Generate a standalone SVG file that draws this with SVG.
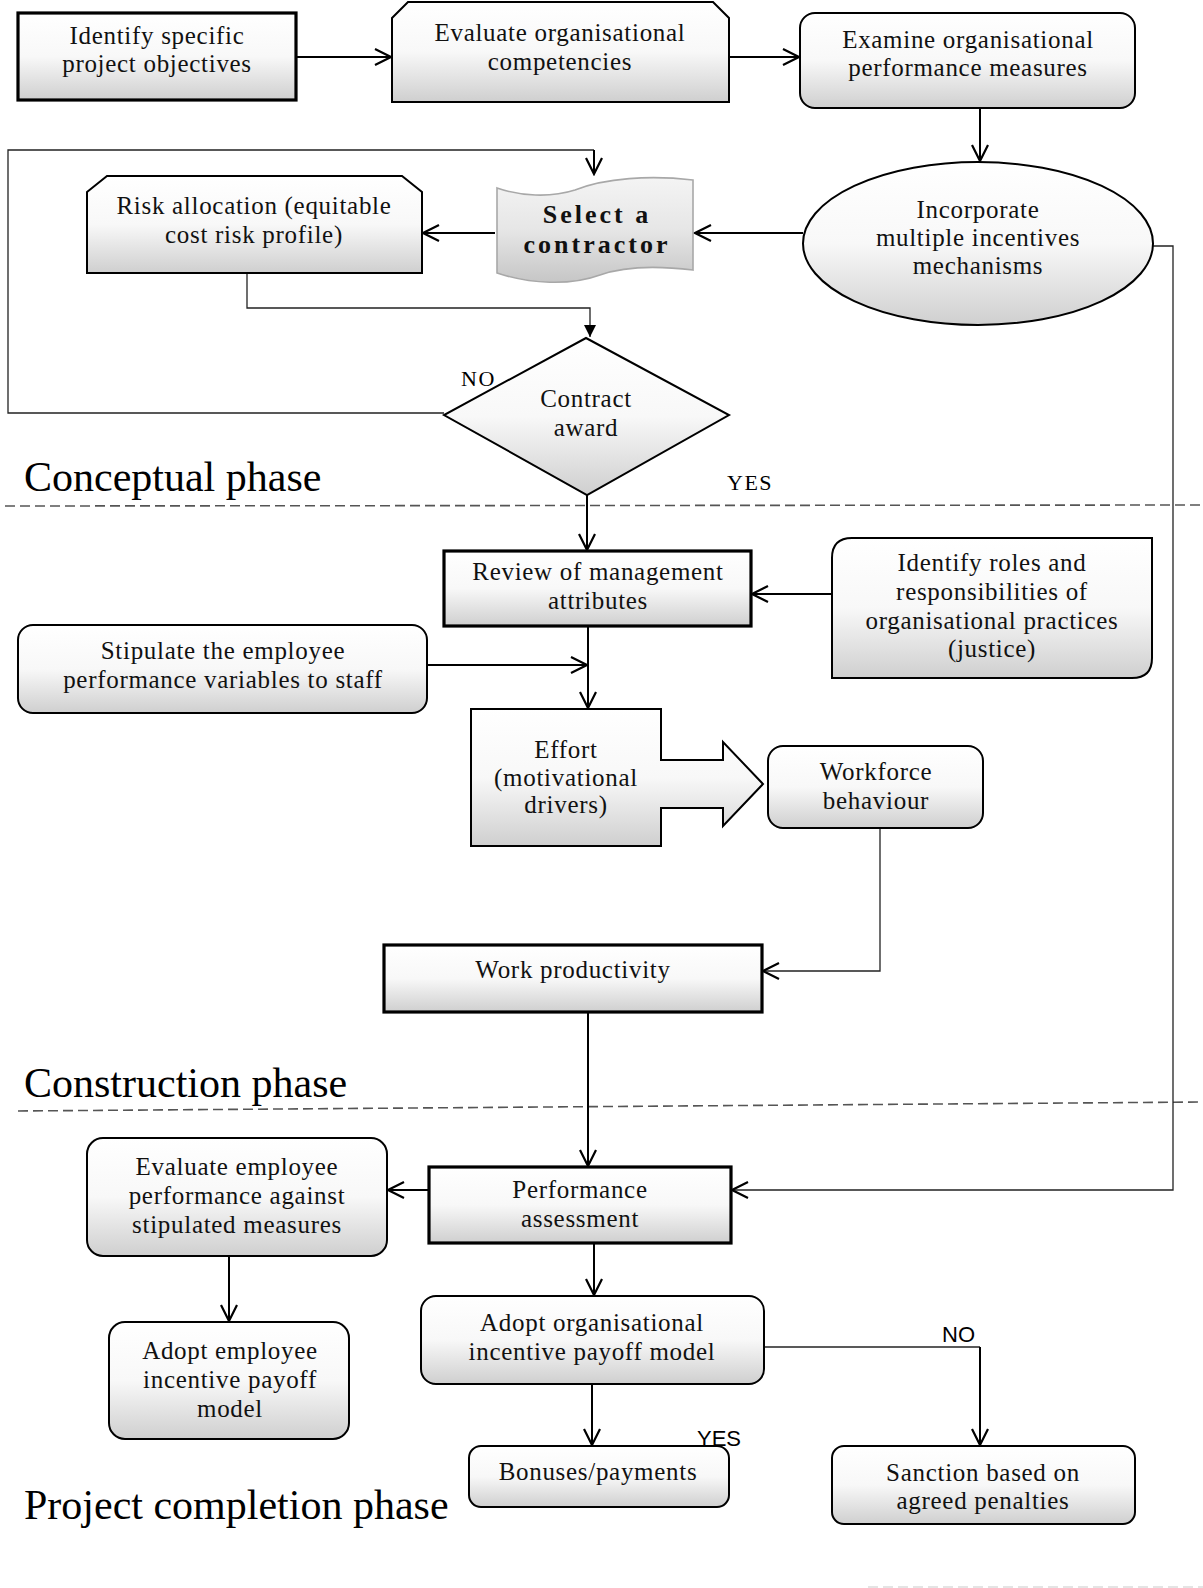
<svg xmlns="http://www.w3.org/2000/svg" width="1203" height="1588" viewBox="0 0 1203 1588">
  <defs>
    <linearGradient id="boxFill" x1="0" y1="0" x2="0" y2="1">
      <stop offset="0" stop-color="#ffffff"/>
      <stop offset="0.5" stop-color="#f8f8f8"/>
      <stop offset="1" stop-color="#cfcfcf"/>
    </linearGradient>
    <linearGradient id="tapeFill" x1="0" y1="0" x2="0" y2="1">
      <stop offset="0" stop-color="#f4f4f4"/>
      <stop offset="0.5" stop-color="#e6e6e6"/>
      <stop offset="1" stop-color="#c6c6c6"/>
    </linearGradient>
    <marker id="arrowOpen" viewBox="0 0 20 20" refX="18" refY="10" markerWidth="20" markerHeight="20" orient="auto" markerUnits="userSpaceOnUse">
      <path d="M2,2 L18,10 L2,18" fill="none" stroke="#000" stroke-width="2.2"/>
    </marker>
    <marker id="arrowSolid" viewBox="0 0 16 16" refX="14" refY="8" markerWidth="16" markerHeight="16" orient="auto" markerUnits="userSpaceOnUse">
      <path d="M2,2 L14,8 L2,14 Z" fill="#000"/>
    </marker>
  </defs>
  <style>
    .box { fill: url(#boxFill); stroke: #000; stroke-width: 2; }
    .thick { stroke-width: 3.2; }
    .tape { fill: url(#tapeFill); stroke: #a8a8a8; stroke-width: 1.6; }
    .lbl { font-family: "Liberation Serif", "Times New Roman", serif; font-size: 25px; letter-spacing: 0.7px; fill: #111; text-anchor: middle; }
    .lbl-bold { font-family: "Liberation Serif", "Times New Roman", serif; font-size: 26px; font-weight: bold; letter-spacing: 3px; fill: #111; text-anchor: middle; }
    .phase { font-family: "Liberation Serif", "Times New Roman", serif; font-size: 42px; fill: #000; }
    .tag { font-family: "Liberation Serif", "Times New Roman", serif; font-size: 22px; letter-spacing: 1.5px; fill: #000; }
    .tag-sans { font-family: "Liberation Sans", Arial, sans-serif; font-size: 22px; fill: #000; }
    .edge { fill: none; stroke: #000; stroke-width: 2; marker-end: url(#arrowOpen); }
    .thin { fill: none; stroke: #222; stroke-width: 1.3; }
    .divider { fill: none; stroke: #555; stroke-width: 1.6; stroke-dasharray: 10 5; }
  </style>

  <!-- phase dividers -->
  <g id="dividers">
    <line class="divider" x1="5" y1="506" x2="1203" y2="505"/>
    <line class="divider" x1="18" y1="1111" x2="1203" y2="1102"/>
    <line x1="868" y1="1587" x2="1203" y2="1587" stroke="#dcdcdc" stroke-width="1.5" stroke-dasharray="10 5"/>
  </g>

  <!-- phase titles -->
  <g id="phase-labels">
    <text class="phase" x="24" y="491">Conceptual phase</text>
    <text class="phase" x="24" y="1097">Construction phase</text>
    <text class="phase" x="24" y="1519">Project completion phase</text>
  </g>

  <!-- connectors -->
  <g id="connectors">
    <path class="edge" d="M296,57 H391"/>
    <path class="edge" d="M729,57 H799"/>
    <path class="edge" d="M980,108 V161"/>
    <path class="edge" d="M803,233 H695"/>
    <path class="edge" d="M495,233 H423"/>
    <path class="thin" d="M444,413 H8 V150 H594"/>
    <path class="edge" d="M594,150 V174" stroke-width="1.3"/>
    <path class="thin" d="M247,273 V308 H590 V337" marker-end="url(#arrowSolid)"/>
    <path class="edge" d="M587,495 V550"/>
    <path class="edge" d="M832,594 H752"/>
    <path class="edge" d="M588,626 V708"/>
    <path class="edge" d="M427,665 H587"/>
    <path class="thin" d="M880,828 V971 H763" marker-end="url(#arrowOpen)"/>
    <path class="edge" d="M588,1012 V1166"/>
    <path class="thin" d="M1153,246 H1173 V1190 H732" marker-end="url(#arrowOpen)"/>
    <path class="edge" d="M429,1190 H388"/>
    <path class="edge" d="M229,1256 V1321"/>
    <path class="edge" d="M594,1243 V1295"/>
    <path class="edge" d="M592,1384 V1445"/>
    <path class="thin" d="M764,1347 H980"/>
    <path class="edge" d="M980,1347 V1445" stroke-width="1.8"/>
  </g>

  <!-- decision labels -->
  <g id="decision-labels">
    <text class="tag" x="461" y="386">NO</text>
    <text class="tag" x="727" y="490">YES</text>
    <text class="tag-sans" x="942" y="1342">NO</text>
    <text class="tag-sans" x="697" y="1446">YES</text>
  </g>

  <!-- conceptual phase -->
  <g id="identify-objectives">
    <rect class="box thick" x="18" y="13" width="278" height="87"/>
    <text class="lbl" x="157" y="44">Identify specific</text>
    <text class="lbl" x="157" y="72">project objectives</text>
  </g>

  <g id="evaluate-competencies">
    <path class="box" d="M392,18 L408,2 H713 L729,18 V102 H392 Z"/>
    <text class="lbl" x="560" y="41">Evaluate organisational</text>
    <text class="lbl" x="560" y="70">competencies</text>
  </g>

  <g id="examine-measures">
    <rect class="box" x="800" y="13" width="335" height="95" rx="15"/>
    <text class="lbl" x="968" y="48">Examine organisational</text>
    <text class="lbl" x="968" y="76">performance measures</text>
  </g>

  <g id="incentive-mechanisms">
    <ellipse class="box" cx="978" cy="243.5" rx="175" ry="81.5"/>
    <text class="lbl" x="978" y="218">Incorporate</text>
    <text class="lbl" x="978" y="246">multiple incentives</text>
    <text class="lbl" x="978" y="274">mechanisms</text>
  </g>

  <g id="select-contractor">
    <path class="tape" d="M497,188 C520,196 550,198 575,190 C605,178 650,175 693,180 V270 C660,266 625,266 600,275 C570,286 530,284 497,273 Z"/>
    <text class="lbl-bold" x="597" y="223">Select a</text>
    <text class="lbl-bold" x="597" y="253">contractor</text>
  </g>

  <g id="risk-allocation">
    <path class="box" d="M87,192 L107,176 H402 L422,192 V273 H87 Z"/>
    <text class="lbl" x="254" y="214">Risk allocation (equitable</text>
    <text class="lbl" x="254" y="243">cost risk profile)</text>
  </g>

  <g id="contract-award">
    <path class="box" d="M586,338 L729,415 L587,495 L444,415 Z"/>
    <text class="lbl" x="586" y="407" letter-spacing="0.3">Contract</text>
    <text class="lbl" x="586" y="436" letter-spacing="0.3">award</text>
  </g>

  <!-- construction phase -->
  <g id="review-attributes">
    <rect class="box thick" x="444" y="551" width="307" height="75"/>
    <text class="lbl" x="598" y="580">Review of management</text>
    <text class="lbl" x="598" y="609">attributes</text>
  </g>

  <g id="roles-responsibilities">
    <path class="box" d="M852,538 H1152 V658 Q1152,678 1132,678 H832 V558 Q832,538 852,538 Z"/>
    <text class="lbl" x="992" y="571">Identify roles and</text>
    <text class="lbl" x="992" y="600">responsibilities of</text>
    <text class="lbl" x="992" y="629">organisational practices</text>
    <text class="lbl" x="992" y="657">(justice)</text>
  </g>

  <g id="stipulate-variables">
    <rect class="box" x="18" y="625" width="409" height="88" rx="15"/>
    <text class="lbl" x="223" y="659">Stipulate the employee</text>
    <text class="lbl" x="223" y="688">performance variables to staff</text>
  </g>

  <g id="effort">
    <path class="box" d="M471,709 H661 V760 H723 V742 L763,784 L723,826 V808 H661 V846 H471 Z"/>
    <text class="lbl" x="566" y="758">Effort</text>
    <text class="lbl" x="566" y="786">(motivational</text>
    <text class="lbl" x="566" y="813">drivers)</text>
  </g>

  <g id="workforce-behaviour">
    <rect class="box" x="768" y="746" width="215" height="82" rx="15"/>
    <text class="lbl" x="876" y="780">Workforce</text>
    <text class="lbl" x="876" y="809">behaviour</text>
  </g>

  <g id="work-productivity">
    <rect class="box thick" x="384" y="945" width="378" height="67"/>
    <text class="lbl" x="573" y="978">Work productivity</text>
  </g>

  <!-- project completion phase -->
  <g id="performance-assessment">
    <rect class="box thick" x="429" y="1167" width="302" height="76"/>
    <text class="lbl" x="580" y="1198">Performance</text>
    <text class="lbl" x="580" y="1227">assessment</text>
  </g>

  <g id="evaluate-employee">
    <rect class="box" x="87" y="1138" width="300" height="118" rx="16"/>
    <text class="lbl" x="237" y="1175">Evaluate employee</text>
    <text class="lbl" x="237" y="1204">performance against</text>
    <text class="lbl" x="237" y="1233">stipulated measures</text>
  </g>

  <g id="employee-payoff">
    <rect class="box" x="109" y="1322" width="240" height="117" rx="16"/>
    <text class="lbl" x="230" y="1359">Adopt employee</text>
    <text class="lbl" x="230" y="1388">incentive payoff</text>
    <text class="lbl" x="230" y="1417">model</text>
  </g>

  <g id="organisational-payoff">
    <rect class="box" x="421" y="1296" width="343" height="88" rx="15"/>
    <text class="lbl" x="592" y="1331">Adopt organisational</text>
    <text class="lbl" x="592" y="1360">incentive payoff model</text>
  </g>

  <g id="bonuses">
    <rect class="box" x="469" y="1446" width="260" height="61" rx="12"/>
    <text class="lbl" x="598" y="1480">Bonuses/payments</text>
  </g>

  <g id="sanction">
    <rect class="box" x="832" y="1446" width="303" height="78" rx="12"/>
    <text class="lbl" x="983" y="1481">Sanction based on</text>
    <text class="lbl" x="983" y="1509">agreed penalties</text>
  </g>
</svg>
